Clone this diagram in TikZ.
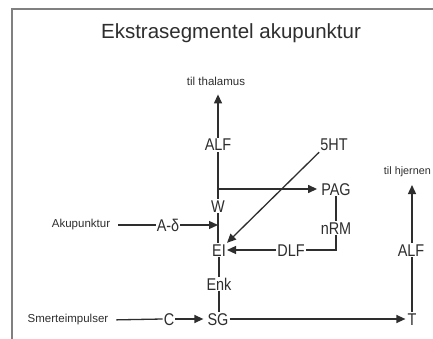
\documentclass[tikz,border=0pt]{standalone}
\usepackage{fontspec}
\setmainfont{Liberation Sans}
\newfontfamily\nar[FakeStretch=0.85]{Liberation Sans}
\usetikzlibrary{arrows.meta}
\definecolor{ink}{HTML}{2E2E2E}
\definecolor{framec}{HTML}{808080}
\begin{document}
\begin{tikzpicture}[x=1pt,y=-1pt,
 lbl/.style={font=\nar\fontsize{17}{17}\selectfont, text=ink, inner sep=1pt, text height=12pt, text depth=0pt},
 small/.style={font=\fontsize{11.5}{12}\selectfont, text=ink, inner sep=1pt},
 conn/.style={draw=ink, line width=1.3pt},
 arr/.style={conn, -{Triangle[length=9pt,width=8pt]}}]
\useasboundingbox (0,0) rectangle (433,339);
\fill[white] (0,0) rectangle (433,339);
\draw[framec, line width=1.5pt] (12,339) -- (12,9) -- (433,9);
% title
\node[font=\fontsize{20.5}{22}\selectfont, text=ink] (title) at (231,33) {Ekstrasegmentel akupunktur};
% labels
\node[small] (thal) at (216,81) {til thalamus};
\node[lbl] (alf1) at (218,145) {ALF};
\node[lbl] (w) at (218,206) {W};
\node[lbl] (ei) at (219,250) {EI};
\node[lbl] (enk) at (219,284) {Enk};
\node[lbl] (sg) at (218,319) {SG};
\node[lbl] (ht) at (334,145) {5HT};
\node[lbl] (pag) at (336,189) {PAG};
\node[lbl] (nrm) at (336,228) {nRM};
\node[lbl] (dlf) at (291,250) {DLF};
\node[small] (aku) at (81,225) {Akupunktur};
\node[lbl] (ad) at (168,225) {A-δ};
\node[small] (sm) at (68,320) {Smerteimpulser};
\node[lbl] (c) at (169,319) {C};
\node[lbl] (t) at (412,319) {T};
\node[lbl] (alf2) at (411,250) {ALF};
\node[small, font=\fontsize{10.8}{11}\selectfont, anchor=east] (hj) at (432,172) {til hjernen};
\coordinate (br) at (218,189);
\coordinate (akt) at (218,225);
% connectors
\draw[arr, shorten >=8pt] (alf1.north) -- (alf1.north |- thal.south);
\draw[conn] (alf1.south) -- (w.north);
\draw[arr, shorten >=3pt] (br) -- (pag.west);
\draw[conn] (w.south) -- (ei.north -| w.south);
\draw[conn, shorten <=7pt] (aku.east) -- (ad.west);
\draw[arr] (ad.east) -- (akt);
\draw[arr] (ht.south west) -- (ei.north east);
\draw[conn] (pag.south) -- (nrm.north);
\draw[conn] (nrm.south) |- (dlf.east);
\draw[arr] (dlf.west) -- (ei.east);
\draw[conn] (ei.south -| enk.north) -- (enk.north);
\draw[conn] (enk.south) -- (sg.north -| enk.south);
\draw[conn, shorten <=7pt] (sm.east) -- (c.west);
\draw[arr, shorten >=3pt] (c.east) -- (sg.west);
\draw[arr, shorten >=1pt] (sg.east) -- (t.west);
\draw[conn] (t.north) -- (t.north |- alf2.south);
\draw[arr] (alf2.north -| t.north) -- (t.north |- 0,185);
\end{tikzpicture}
\end{document}
